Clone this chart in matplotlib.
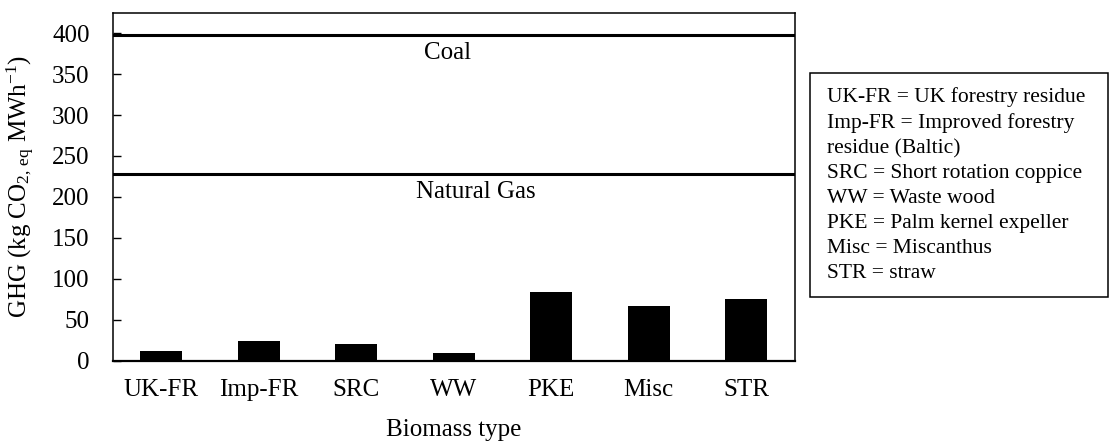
import numpy as np
import matplotlib
matplotlib.use('Agg')
import matplotlib.pyplot as plt
from matplotlib.patches import Rectangle

plt.rcParams['font.family'] = ['Liberation Serif', 'DejaVu Serif']
plt.rcParams['mathtext.fontset'] = 'custom'
plt.rcParams['mathtext.rm'] = 'Liberation Serif'
plt.rcParams['mathtext.it'] = 'Liberation Serif:italic'

# data
biomass = ['UK-FR', 'Imp-FR', 'SRC', 'WW', 'PKE', 'Misc', 'STR']
ghg = [12, 24, 20, 9.5, 84, 66.6, 74.8]
coal = 397.5
natural_gas = 228
legend_lines = ['UK-FR = UK forestry residue',
                'Imp-FR = Improved forestry',
                'residue (Baltic)',
                'SRC = Short rotation coppice',
                'WW = Waste wood',
                'PKE = Palm kernel expeller',
                'Misc = Miscanthus',
                'STR = straw']

fig = plt.figure(figsize=(11.1, 4.41), dpi=100)
ax = fig.add_axes([0.1015, 0.1825, 0.6145, 0.7885])

x = np.arange(len(biomass))
ax.bar(x, ghg, 0.43, color='black', zorder=3)
ax.axhline(coal, color='black', lw=2.2, zorder=4)
ax.axhline(natural_gas, color='black', lw=2.2, zorder=4)
ax.text(2.94, coal - 8, 'Coal', ha='center', va='top', fontsize=18)
ax.text(3.23, natural_gas - 8, 'Natural Gas', ha='center', va='top', fontsize=18)

ax.set_xlim(-0.5, len(biomass) - 0.5)
ax.set_ylim(0, 425)
ax.set_yticks(np.arange(0, 401, 50))
ax.set_xticks(x)
ax.set_xticklabels(biomass)
ax.tick_params(axis='y', direction='in', length=6, width=1, labelsize=18, pad=16.5)
ax.tick_params(axis='x', length=0, labelsize=18, pad=13.5)
for s in ['left', 'top', 'right']:
    ax.spines[s].set_linewidth(1.1)
ax.spines['bottom'].set_linewidth(1.6)

ax.set_ylabel(r'GHG (kg CO$_{2,\,\mathrm{eq}}$ MWh$^{\mathrm{-1}}$)', fontsize=18)
ax.yaxis.set_label_coords(-0.111, 0.5)
ax.set_xlabel('Biomass type', fontsize=18, labelpad=13)

# text box with the abbreviations
fig.patches.append(Rectangle((810 / 1110, 1 - 296.5 / 441), 298 / 1110, 224 / 441,
                             transform=fig.transFigure, fill=False,
                             edgecolor='black', lw=1.1))
fig.text(827 / 1110, 1 - 87 / 441, '\n'.join(legend_lines), ha='left', va='top',
         fontsize=15.5, linespacing=1.42)

fig.savefig('out.png', dpi=100)
